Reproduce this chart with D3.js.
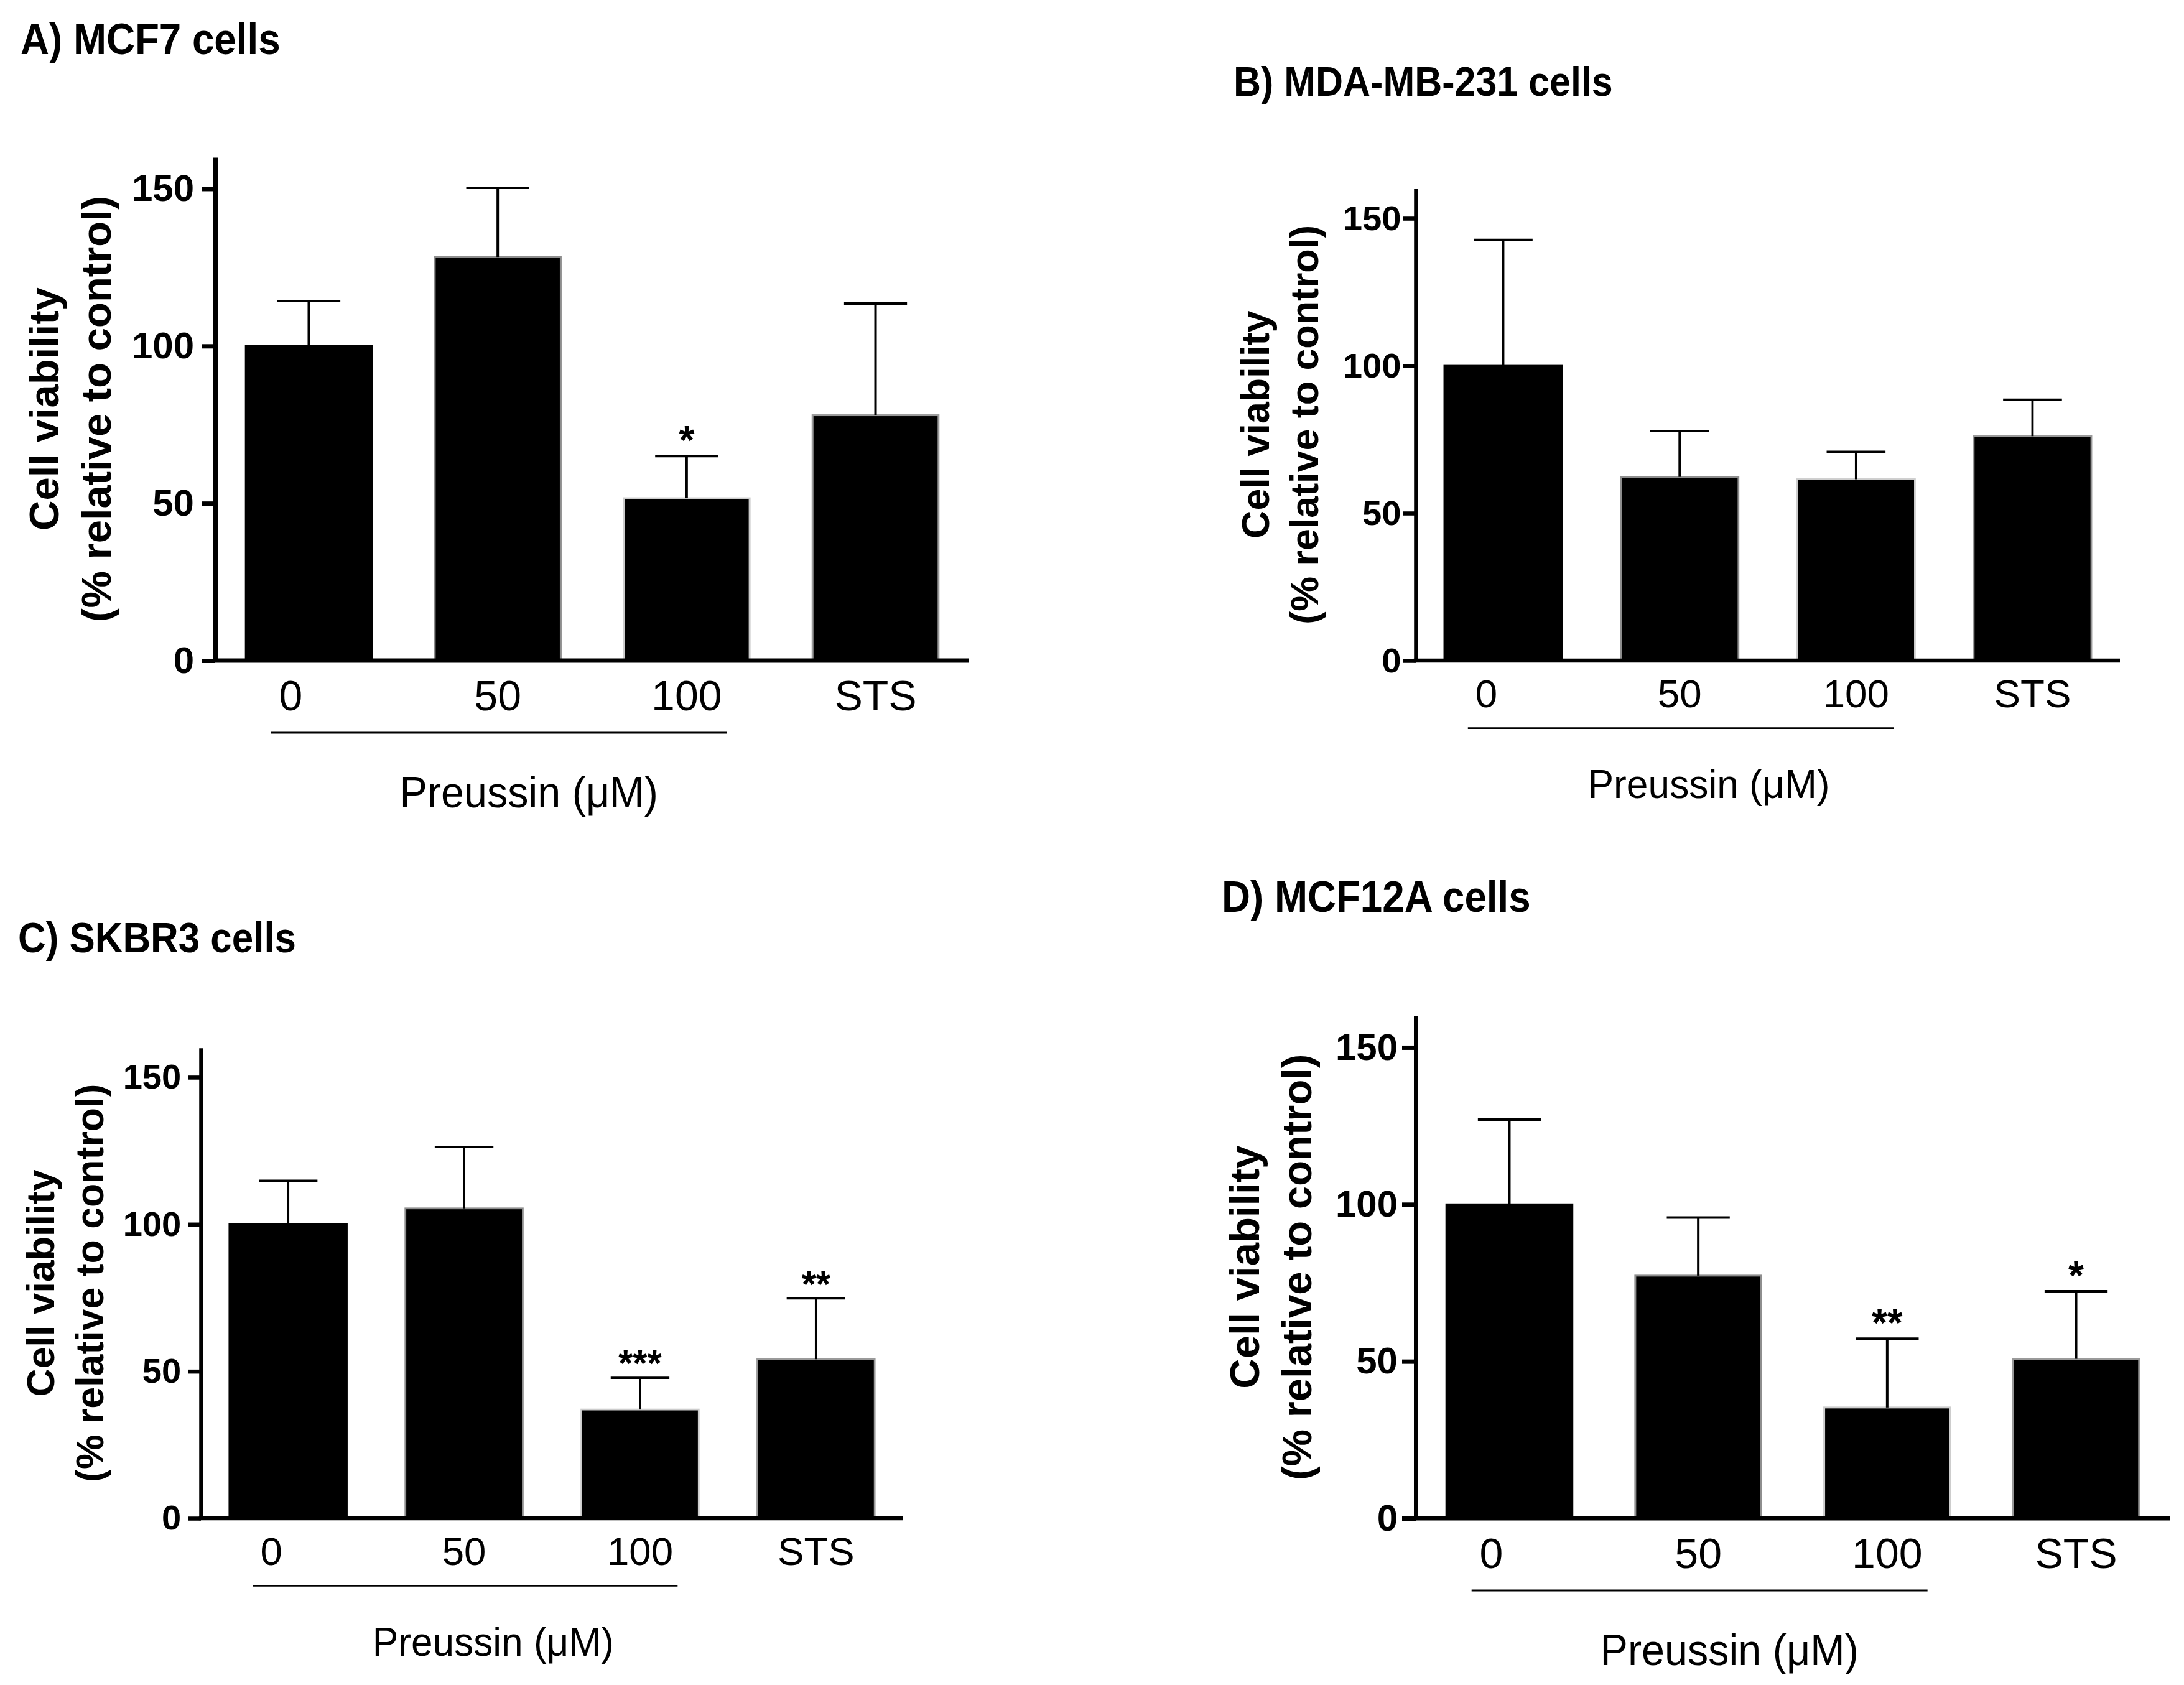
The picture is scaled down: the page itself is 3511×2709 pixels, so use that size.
<!DOCTYPE html>
<html>
<head>
<meta charset="utf-8">
<script src="https://cdn.jsdelivr.net/npm/d3@7"></script>
<style>
  html, body { margin: 0; padding: 0; background: #fff; }
  text { font-family: "Liberation Sans", Arial, Helvetica, sans-serif; fill: #000; }
</style>
</head>
<body>
<svg id="chart" width="3511" height="2709"></svg>
<script>
// ---------------- data ----------------
const categories = ["0", "50", "100", "STS"];
const yTicks = [0, 50, 100, 150];
const titles = ["A) MCF7 cells", "B) MDA-MB-231 cells", "C) SKBR3 cells", "D) MCF12A cells"];
const xTitle = "Preussin (\u03BCM)";
const yTitleLine1 = "Cell viability";
const yTitleLine2 = "(% relative to control)";

// mean cell viability (% of control) and upper error (SD)
const meanA = [100, 128.3, 51.6, 78.0];
const errA  = [14.3, 22.0, 13.4, 35.5];
const sigA  = ["", "", "*", ""];

const meanB = [100, 62.3, 61.5, 76.1];
const errB  = [42.7, 15.5, 9.3, 12.4];
const sigB  = ["", "", "", ""];

const meanC = [100, 105.4, 37.0, 54.1];
const errC  = [14.8, 20.9, 10.8, 20.7];
const sigC  = ["", "", "***", "**"];

const meanD = [100, 77.3, 35.3, 50.8];
const errD  = [27.0, 18.5, 21.9, 21.5];
const sigD  = ["", "", "**", "*"];

// ---------------- layout (positions / styles) ----------------
const layout = [
  { axisX: 346,  xEnd: 1558, y0: 1062, ppu: 5.057, k: 1.0,   titleX: 33,   titleY: 87,   titleSize: 70, tickPad: 12 },
  { axisX: 2276, xEnd: 3408, y0: 1062, ppu: 4.74,  k: 0.937, titleX: 1983, titleY: 154,  titleSize: 67, tickPad: 3 },
  { axisX: 323,  xEnd: 1452, y0: 2441, ppu: 4.727, k: 0.935, titleX: 29,   titleY: 1531, titleSize: 68, tickPad: 12 },
  { axisX: 2276, xEnd: 3488, y0: 2441, ppu: 5.047, k: 1.0,   titleX: 1964, titleY: 1466, titleSize: 70, tickPad: 7 }
];
const barStroke = ["#000000", "#8e8e8e", "#cdcdcd", "#9a9a9a"];

const svg = d3.select("#chart");
svg.append("rect").attr("width", 3511).attr("height", 2709).attr("fill", "#fff");

function drawPanel(cfg, title, means, errs, sigs) {
  const k = cfg.k;
  const x = d3.scaleBand().domain(categories)
    .range([cfg.axisX, cfg.xEnd]).paddingInner(0.333).paddingOuter(0.162);
  const y = d3.scaleLinear().domain([0, 160])
    .range([cfg.y0, cfg.y0 - 160 * cfg.ppu]);
  const bw = x.bandwidth();
  const cx = c => x(c) + bw / 2;
  const data = categories.map((c, i) => ({ c, i, m: means[i], e: errs[i], s: sigs[i] }));

  const g = svg.append("g");

  // title (slightly condensed bold)
  g.append("text").attr("transform", `translate(${cfg.titleX},${cfg.titleY}) scale(0.91,1)`)
    .attr("font-size", cfg.titleSize).attr("font-weight", "bold").text(title);

  // bars
  g.selectAll("rect.bar").data(data).join("rect").attr("class", "bar")
    .attr("x", d => x(d.c)).attr("y", d => y(d.m))
    .attr("width", bw).attr("height", d => y(0) - y(d.m))
    .attr("fill", "#000").attr("stroke", d => barStroke[d.i]).attr("stroke-width", 3 * k);

  // error whiskers (upper only)
  g.selectAll("line.whisk").data(data).join("line").attr("class", "whisk")
    .attr("x1", d => cx(d.c)).attr("x2", d => cx(d.c))
    .attr("y1", d => y(d.m)).attr("y2", d => y(d.m + d.e))
    .attr("stroke", "#000").attr("stroke-width", 4 * k);
  g.selectAll("line.cap").data(data).join("line").attr("class", "cap")
    .attr("x1", d => cx(d.c) - bw / 4).attr("x2", d => cx(d.c) + bw / 4)
    .attr("y1", d => y(d.m + d.e)).attr("y2", d => y(d.m + d.e))
    .attr("stroke", "#000").attr("stroke-width", 4 * k);

  // significance stars
  g.selectAll("text.sig").data(data.filter(d => d.s)).join("text").attr("class", "sig")
    .attr("x", d => cx(d.c)).attr("y", d => y(d.m + d.e) - 3 * k)
    .attr("text-anchor", "middle").attr("font-size", 64 * k).attr("font-weight", "bold")
    .text(d => d.s);

  // y axis
  const ya = g.append("g").attr("transform", `translate(${cfg.axisX},0)`)
    .call(d3.axisLeft(y).tickValues(yTicks).tickSize(22 * k).tickPadding(cfg.tickPad * k).tickSizeOuter(0));
  ya.select(".domain").attr("stroke", "#000").attr("stroke-width", 7 * k);
  ya.selectAll(".tick line").attr("stroke", "#000").attr("stroke-width", 7 * k);
  ya.selectAll(".tick text").attr("font-size", 60 * k).attr("font-weight", "bold")
    .attr("font-family", "Liberation Sans, Arial, sans-serif").attr("fill", "#000");

  // x axis line
  g.append("line").attr("x1", cfg.axisX - 3.5 * k).attr("x2", cfg.xEnd)
    .attr("y1", y(0)).attr("y2", y(0)).attr("stroke", "#000").attr("stroke-width", 7 * k);

  // x category labels
  const xa = g.append("g").attr("transform", `translate(0,${y(0)})`)
    .call(d3.axisBottom(x).tickSize(0).tickPadding(32 * k));
  xa.select(".domain").remove();
  xa.selectAll(".tick text").attr("font-size", 68 * k)
    .attr("font-family", "Liberation Sans, Arial, sans-serif").attr("fill", "#000")
    .attr("dx", (d, i) => i === 0 ? -29 * k : 0);

  // underline for Preussin doses
  const ux1 = x("0") + 0.2 * bw, ux2 = x("100") + 0.82 * bw;
  g.append("line").attr("x1", ux1).attr("x2", ux2)
    .attr("y1", y(0) + 116 * k).attr("y2", y(0) + 116 * k)
    .attr("stroke", "#000").attr("stroke-width", 3 * k);
  g.append("text")
    .attr("transform", `translate(${(ux1 + ux2) / 2 + 48 * k},${y(0) + 236 * k}) scale(0.95,1)`)
    .attr("text-anchor", "middle").attr("font-size", 70 * k).text(xTitle);

  // y title (two lines)
  const yt = g.append("text")
    .attr("transform", `translate(${cfg.axisX - 252 * k},${y(80)}) rotate(-90)`)
    .attr("text-anchor", "middle").attr("font-size", 67 * k).attr("font-weight", "bold");
  yt.append("tspan").attr("x", 0).attr("y", 0).text(yTitleLine1);
  yt.append("tspan").attr("x", 0).attr("y", 84 * k).text(yTitleLine2);
}

drawPanel(layout[0], titles[0], meanA, errA, sigA);
drawPanel(layout[1], titles[1], meanB, errB, sigB);
drawPanel(layout[2], titles[2], meanC, errC, sigC);
drawPanel(layout[3], titles[3], meanD, errD, sigD);
</script>
</body>
</html>
